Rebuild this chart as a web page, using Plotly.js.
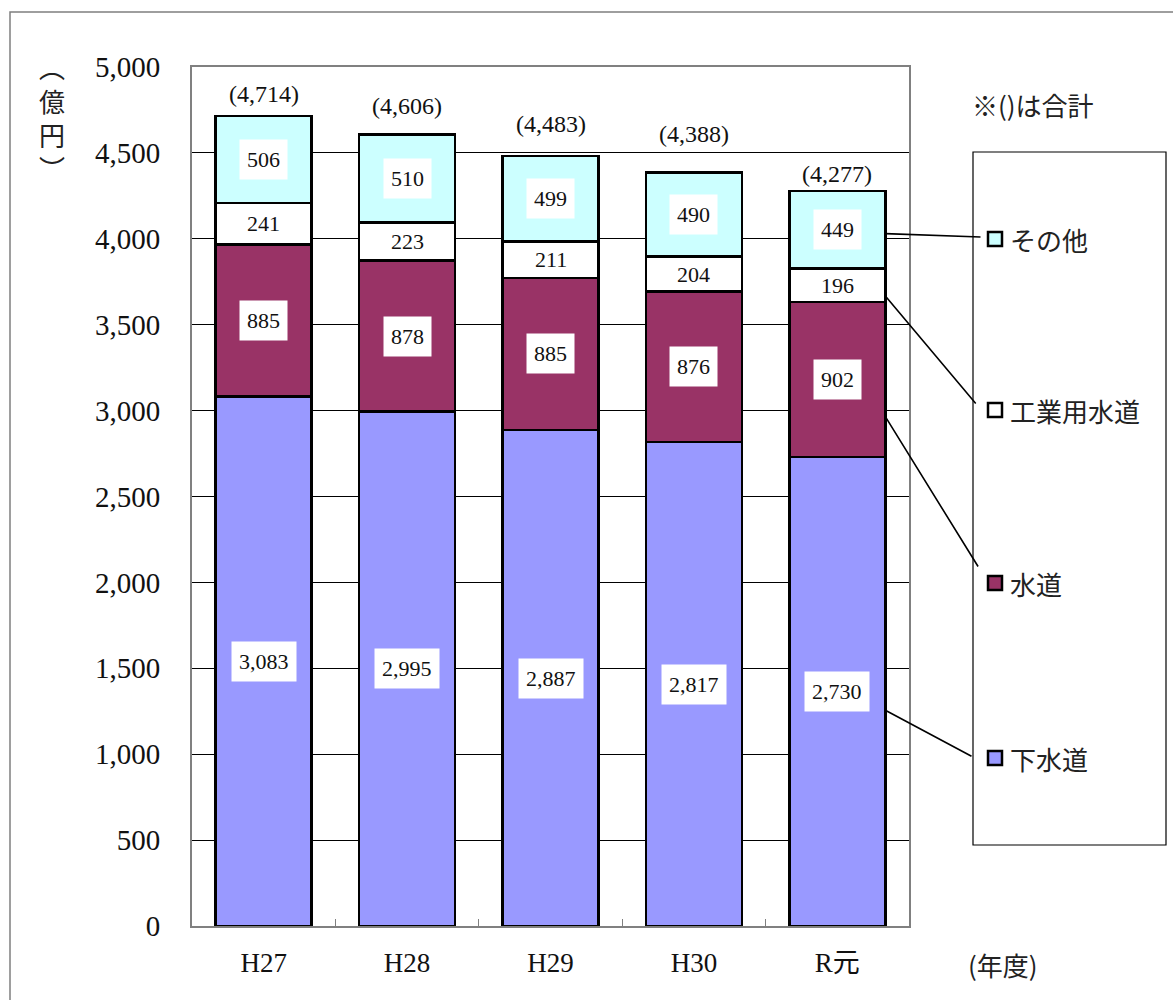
<!DOCTYPE html>
<html>
<head>
<meta charset="utf-8">
<script src="https://cdn.plot.ly/plotly-3.0.1.min.js"></script>
<style>
  html, body { margin: 0; padding: 0; background: #ffffff; }
  #chart { width: 1173px; height: 1000px; }
</style>
</head>
<body>
<div id="chart"></div>
<script>
// 年度別の内訳（億円）
const years = ['H27', 'H28', 'H29', 'H30', 'R元'];
const sewer = [3083, 2995, 2887, 2817, 2730];      // 下水道
const water = [885, 878, 885, 876, 902];           // 水道
const industrial = [241, 223, 211, 204, 196];      // 工業用水道
const other = [506, 510, 499, 490, 449];           // その他
const totals = [4714, 4606, 4483, 4388, 4277];     // 合計

const seriesNames = ['下水道', '水道', '工業用水道', 'その他'];
const seriesValues = [sewer, water, industrial, other];
const seriesColors = ['#9999FF', '#993366', '#FFFFFF', '#CCFFFF'];

const numFont = 'Liberation Serif, "DejaVu Serif", "Noto Sans CJK JP", serif';
const jpFont = '"Noto Sans CJK JP", "Noto Sans", sans-serif';

// plot area in pixels
const W = 1173, H = 1000;
const L = 192, R = 909, T = 67, B = 926;
const px = x => (x - L) / (R - L);
const py = y => (B - y) / (B - T);

const fmt = v => v.toLocaleString('en-US');

const traces = seriesNames.map((name, i) => ({
  type: 'bar',
  name: name,
  x: years,
  y: seriesValues[i],
  marker: { color: seriesColors[i], line: { color: '#000000', width: 2.5 } },
  hoverinfo: 'x+y+name',
  showlegend: false
}));

const annotations = [];

// extra lift (px) of each total label above its bar
const totalLift = [4, 11, 14, 20, -1];

// segment value labels
years.forEach((yr, c) => {
  let base = 0;
  seriesValues.forEach((vals, s) => {
    const v = vals[c];
    const boxed = seriesColors[s] !== '#FFFFFF';
    annotations.push({
      x: yr, y: base + v / 2, xref: 'x', yref: 'y',
      xanchor: 'center', yanchor: 'middle',
      text: fmt(v), showarrow: false,
      font: { family: numFont, size: 22, color: '#111111' },
      bgcolor: boxed ? '#FFFFFF' : 'rgba(0,0,0,0)',
      borderpad: boxed ? 7 : 0
    });
    base += v;
  });
  // total above each bar
  annotations.push({
    x: yr, y: totals[c], xref: 'x', yref: 'y',
    xanchor: 'center', yanchor: 'bottom', yshift: 3 + totalLift[c],
    text: '(' + fmt(totals[c]) + ')', showarrow: false,
    font: { family: numFont, size: 24, color: '#111111' }
  });
});

// legend box entries (top to bottom) with leader lines from the last bar
const last = years.length - 1;
const lastBase = [0, sewer[last], sewer[last] + water[last], sewer[last] + water[last] + industrial[last]];
const legendRows = [
  { s: 3, cy: 239, frac: 0.45, end: [982, 237] },
  { s: 2, cy: 410, frac: 0.18, end: [977, 405] },
  { s: 1, cy: 583, frac: 0.26, end: [979, 568] },
  { s: 0, cy: 758, frac: 0.46, end: [973, 757] }
];
const barEdgeX = last + 0.335;
const xPix = i => L + (R - L) / years.length * (i + 0.5);
const yPix = v => B - v * (B - T) / 5000;

const shapes = [
  // outer frame
  { type: 'rect', xref: 'paper', yref: 'paper',
    x0: px(10), x1: px(1190), y0: py(1010), y1: py(12),
    line: { color: '#7f7f7f', width: 1.5 }, fillcolor: 'rgba(0,0,0,0)' },
  // legend frame
  { type: 'rect', xref: 'paper', yref: 'paper',
    x0: px(973), x1: px(1166), y0: py(845), y1: py(152),
    line: { color: '#000000', width: 1.2 }, fillcolor: 'rgba(0,0,0,0)' }
];

legendRows.forEach(row => {
  const s = row.s;
  shapes.push({
    type: 'rect', xref: 'paper', yref: 'paper',
    x0: px(988), x1: px(1002), y0: py(row.cy + 7), y1: py(row.cy - 7),
    line: { color: '#000000', width: 2.5 }, fillcolor: seriesColors[s]
  });
  annotations.push({
    x: px(1008), y: py(row.cy), xref: 'paper', yref: 'paper',
    xanchor: 'left', yanchor: 'middle', showarrow: false,
    text: seriesNames[s],
    font: { family: jpFont, size: 26, color: '#222222' }
  });
  const tipVal = lastBase[s] + seriesValues[s][last] * row.frac;
  const tipX = xPix(barEdgeX);
  const tipY = yPix(tipVal);
  annotations.push({
    x: barEdgeX, y: tipVal, xref: 'x', yref: 'y',
    text: '', showarrow: true, arrowhead: 0, arrowwidth: 1.6, arrowcolor: '#000000',
    axref: 'pixel', ayref: 'pixel',
    ax: row.end[0] - tipX, ay: row.end[1] - tipY,
    standoff: 0, startstandoff: 0
  });
});

// notes and axis captions
annotations.push(
  { x: px(1033), y: py(104), xref: 'paper', yref: 'paper', showarrow: false,
    xanchor: 'center', yanchor: 'middle',
    text: '※()は合計', font: { family: jpFont, size: 26, color: '#222222' } },
  { x: px(1003), y: py(965), xref: 'paper', yref: 'paper', showarrow: false,
    xanchor: 'center', yanchor: 'middle',
    text: '(年度)', font: { family: jpFont, size: 26, color: '#222222' } },
  { x: px(52), y: py(117), xref: 'paper', yref: 'paper', showarrow: false,
    xanchor: 'center', yanchor: 'middle',
    text: '︵<br>億<br>円<br>︶', font: { family: jpFont, size: 26, color: '#222222' } }
);

const layout = {
  width: W, height: H,
  margin: { l: L, r: W - R, t: T, b: H - B, pad: 0 },
  paper_bgcolor: '#ffffff',
  plot_bgcolor: '#ffffff',
  barmode: 'stack',
  bargap: 0.33,
  showlegend: false,
  xaxis: {
    type: 'category',
    range: [-0.5, years.length - 0.5],
    showline: true, linecolor: '#808080', linewidth: 2, mirror: true,
    ticks: 'inside', tickson: 'boundaries', ticklen: 7, tickcolor: '#808080', tickwidth: 1,
    showgrid: false,
    tickfont: { family: numFont, size: 27, color: '#111111' },
    ticklabelstandoff: 12
  },
  yaxis: {
    range: [0, 5000], dtick: 500, tickformat: ',d',
    showline: true, linecolor: '#808080', linewidth: 2, mirror: true,
    ticks: '', showgrid: true, gridcolor: '#000000', gridwidth: 1,
    zeroline: false,
    tickfont: { family: numFont, size: 29, color: '#111111' },
    ticklabelstandoff: 24
  },
  shapes: shapes,
  annotations: annotations
};

Plotly.newPlot('chart', traces, layout, { displayModeBar: false, staticPlot: true });
</script>
</body>
</html>
